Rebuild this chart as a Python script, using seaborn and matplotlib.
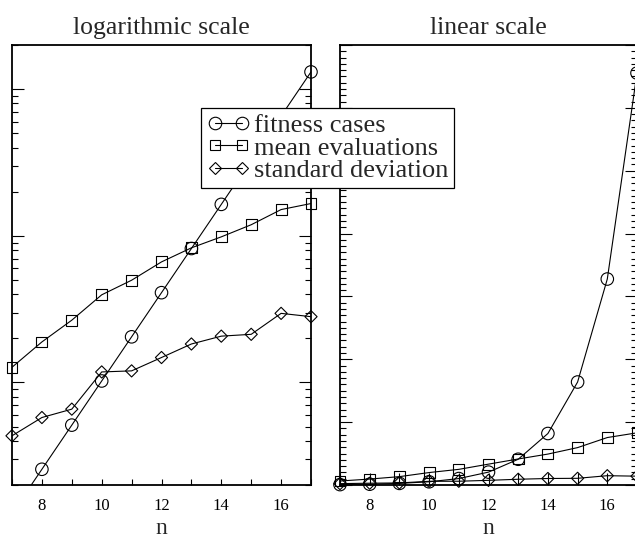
import numpy as np
import pandas as pd
import matplotlib
matplotlib.use("Agg")
import matplotlib.pyplot as plt
from matplotlib.lines import Line2D
from matplotlib.ticker import FixedLocator, MultipleLocator, LogLocator, NullFormatter
import seaborn as sns

# Problem size and measured quantities
n_values = [7, 8, 9, 10, 11, 12, 13, 14, 15, 16, 17]
fitness_cases = [128, 256, 512, 1024, 2048, 4096, 8192, 16384, 32768, 65536, 131072]
mean_evaluations = [1270, 1890, 2660, 3960, 4980, 6640, 8280, 9840, 11900, 15100, 16600]
std_deviation = [433, 577, 658, 1180, 1200, 1480, 1830, 2070, 2130, 2960, 2810]

series_names = ["fitness cases", "mean evaluations", "standard deviation"]
panel_titles = ["logarithmic scale", "linear scale"]
x_tick_values = [8, 10, 12, 14, 16]

df = pd.DataFrame({
    "n": n_values * 3,
    "value": fitness_cases + mean_evaluations + std_deviation,
    "series": np.repeat(series_names, len(n_values)),
})

sns.set_style("ticks")
plt.rcParams["font.family"] = ["Liberation Serif", "DejaVu Serif"]

marker_of = {"fitness cases": "o", "mean evaluations": "s", "standard deviation": "D"}
size_of = {"o": 9.0, "s": 7.8, "D": 6.2}
LW = 0.8

W, H = 635, 540
fig = plt.figure(figsize=(W / 100, H / 100), dpi=100)
ax_log = fig.add_axes([12 / W, 55 / H, 299 / W, 440 / H])
ax_lin = fig.add_axes([340 / W, 55 / H, 297 / W, 440 / H])


def draw_panel(ax, ylim):
    # connecting lines, clipped to the plotting area
    sns.lineplot(data=df, x="n", y="value", units="series", estimator=None,
                 color="black", linewidth=LW, legend=False, ax=ax)
    ax.set_ylim(*ylim)
    ax.set_xlim(7, 17)
    # symbols for every point inside the value range, drawn whole
    for name in series_names:
        sub = df[(df["series"] == name) & (df["value"] >= ylim[0]) & (df["value"] <= ylim[1])]
        m = marker_of[name]
        sns.scatterplot(data=sub, x="n", y="value", marker=m, s=size_of[m] ** 2,
                        facecolor="none", edgecolor="black", linewidth=LW,
                        clip_on=False, legend=False, ax=ax, zorder=3)
    ax.set_xlim(7, 17)
    ax.set_ylim(*ylim)
    ax.set_ylabel("")
    ax.set_xlabel("n", fontsize=17, labelpad=2.5)
    for sp in ax.spines.values():
        sp.set_linewidth(1.3)
        sp.set_color("black")
    ax.xaxis.set_major_locator(FixedLocator(x_tick_values))
    ax.xaxis.set_minor_locator(MultipleLocator(1))
    ax.tick_params(axis="both", which="both", direction="in", width=0.8,
                   colors="black", labelsize=12, pad=9.5)
    ax.tick_params(axis="y", which="both", left=True, right=True, labelleft=False)
    ax.tick_params(axis="y", which="major", length=8.6)
    ax.tick_params(axis="y", which="minor", length=4.3)
    ax.tick_params(axis="x", which="both", top=False, bottom=True)


ax_log.set_yscale("log")
draw_panel(ax_log, (200, 200000))
ax_log.yaxis.set_major_locator(LogLocator(base=10))
ax_log.yaxis.set_minor_locator(LogLocator(base=10, subs=np.arange(2, 10)))
ax_log.yaxis.set_minor_formatter(NullFormatter())
ax_log.tick_params(axis="x", which="both", length=4.3)
ax_log.set_title(panel_titles[0], fontsize=18.5, pad=8.2)

draw_panel(ax_lin, (0, 140000))
ax_lin.yaxis.set_major_locator(MultipleLocator(20000))
ax_lin.yaxis.set_minor_locator(MultipleLocator(2000))
ax_lin.tick_params(axis="x", which="both", length=8.6)
ax_lin.set_title(panel_titles[1], fontsize=18.5, pad=8.2)

handles = [Line2D([], [], color="black", linewidth=LW, marker=marker_of[s],
                  markersize=size_of[marker_of[s]], markerfacecolor="none",
                  markeredgecolor="black", markeredgewidth=LW) for s in series_names]
leg = fig.legend(handles, series_names, loc="upper left",
                 bbox_to_anchor=(201 / W, 1 - 108 / H), bbox_transform=fig.transFigure,
                 frameon=True, fancybox=False, edgecolor="black", framealpha=1,
                 borderaxespad=0, numpoints=2, handlelength=1.62, handletextpad=0.17,
                 borderpad=0.22, labelspacing=-0.04, fontsize=19)
leg.get_frame().set_linewidth(0.9)

fig.savefig("out.png", dpi=100)
